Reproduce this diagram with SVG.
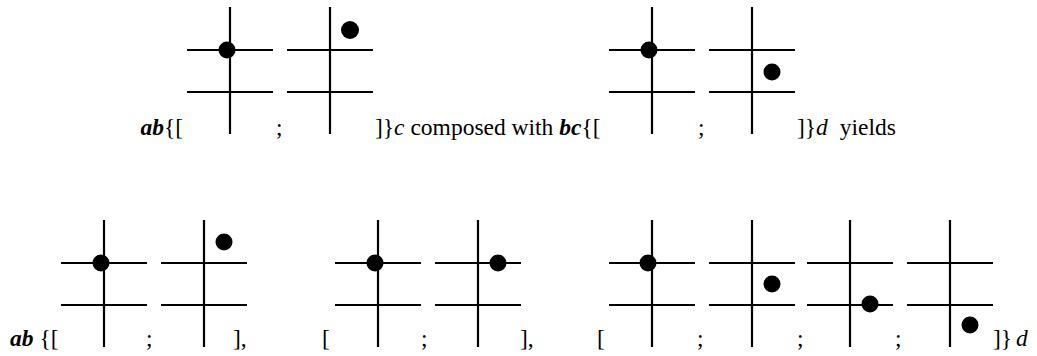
<svg xmlns="http://www.w3.org/2000/svg" xmlns:xlink="http://www.w3.org/1999/xlink" width="1037" height="356" viewBox="0 0 1037 356">
<style>
.ln{stroke:#000;stroke-width:2.2;fill:none}
.st{fill:#000}
.t{font-family:"Liberation Serif","Times New Roman",serif;font-size:23.5px;fill:#000}
.bi{font-weight:bold;font-style:italic}
.i{font-style:italic}
</style>
<defs>
<g id="board">
<line class="ln" x1="0" y1="0" x2="0" y2="127"/>
<line class="ln" x1="-43" y1="43" x2="43" y2="43"/>
<line class="ln" x1="-43" y1="85" x2="43" y2="85"/>
</g>
</defs>
<g id="r1b1"><use href="#board" xlink:href="#board" x="230" y="7"/><circle class="st" cx="227" cy="50" r="8.5"/></g>
<g id="r1b2"><use href="#board" xlink:href="#board" x="330" y="7"/><circle class="st" cx="350" cy="30" r="9"/></g>
<g id="r1b3"><use href="#board" xlink:href="#board" x="652" y="7"/><circle class="st" cx="649" cy="50" r="8.5"/></g>
<g id="r1b4"><use href="#board" xlink:href="#board" x="752" y="7"/><circle class="st" cx="772" cy="72" r="8.5"/></g>
<g id="r2b1"><use href="#board" xlink:href="#board" x="104" y="220"/><circle class="st" cx="101" cy="263" r="8.5"/></g>
<g id="r2b2"><use href="#board" xlink:href="#board" x="204" y="220"/><circle class="st" cx="224" cy="242" r="8.5"/></g>
<g id="r2b3"><use href="#board" xlink:href="#board" x="378" y="220"/><circle class="st" cx="375" cy="263" r="8.5"/></g>
<g id="r2b4"><use href="#board" xlink:href="#board" x="478" y="220"/><circle class="st" cx="498" cy="263" r="8.5"/></g>
<g id="r2b5"><use href="#board" xlink:href="#board" x="652" y="220"/><circle class="st" cx="648" cy="263" r="8.5"/></g>
<g id="r2b6"><use href="#board" xlink:href="#board" x="752" y="220"/><circle class="st" cx="772" cy="284" r="8.5"/></g>
<g id="r2b7"><use href="#board" xlink:href="#board" x="850" y="220"/><circle class="st" cx="870" cy="304" r="8.5"/></g>
<g id="r2b8"><use href="#board" xlink:href="#board" x="950" y="220"/><circle class="st" cx="970" cy="325" r="8.5"/></g>
<g id="connectors"/>
<g id="labels" class="t">
<text x="183" y="135" text-anchor="end"><tspan class="bi">ab</tspan>{[</text>
<text x="276" y="135">;</text>
<text x="375" y="135">]}<tspan class="i">c</tspan> composed with <tspan class="bi">bc</tspan>{[</text>
<text x="698" y="135">;</text>
<text x="797" y="135">]}<tspan class="i">d</tspan><tspan dx="6"> yields</tspan></text>
<text x="10" y="346"><tspan class="bi">ab</tspan> {[</text>
<text x="146" y="346">;</text>
<text x="233" y="346">],</text>
<text x="322" y="346">[</text>
<text x="421" y="346">;</text>
<text x="520" y="346">],</text>
<text x="597" y="346">[</text>
<text x="697" y="346">;</text>
<text x="797" y="346">;</text>
<text x="895" y="346">;</text>
<text x="993" y="346">]}<tspan dx="4" class="i">d</tspan></text>
</g>
</svg>
